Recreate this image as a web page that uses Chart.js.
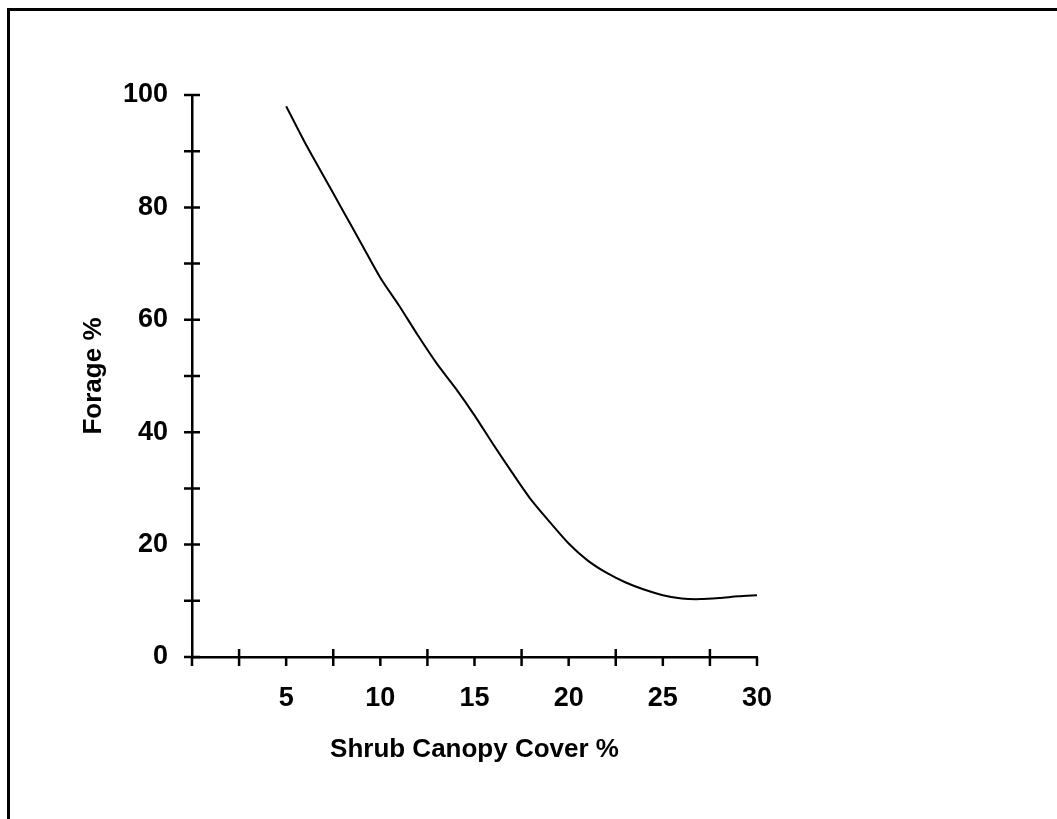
<!DOCTYPE html>
<html>
<head>
<meta charset="utf-8">
<title>Forage vs Shrub Canopy Cover</title>
<script src="https://cdn.jsdelivr.net/npm/chart.js@4.4.1/dist/chart.umd.min.js"></script>
<style>
    html, body { margin: 0; padding: 0; background: #fff; overflow: hidden; }
    #frame {
        position: absolute; left: 7px; top: 8px; width: 1100px; height: 900px;
        border-top: 3px solid #000; border-left: 3px solid #000;
    }
    #forageChart { position: absolute; left: 0; top: 0; }
</style>
</head>
<body>
<div id="frame"></div>
<canvas id="forageChart" width="1057" height="819"></canvas>
<script>
// Values
const shrubCover = [5, 6, 7, 8, 9, 10, 11, 12, 13, 14, 15, 16, 17, 18, 19, 20, 21, 22, 23, 24, 25, 26, 27, 28, 29, 30];
const foragePct = [98, 91.5, 85.5, 79.5, 73.5, 67.5, 62.5, 57.2, 52.2, 47.8, 43, 37.8, 32.8, 28, 24, 20.2, 17.2, 15, 13.3, 12, 11, 10.4, 10.3, 10.5, 10.8, 11];

const xLabels = [5, 10, 15, 20, 25, 30];
const yLabels = [0, 20, 40, 60, 80, 100];
const xTickValues = [0, 2.5, 5, 7.5, 10, 12.5, 15, 17.5, 20, 22.5, 25, 27.5, 30];
const yTickValues = [0, 10, 20, 30, 40, 50, 60, 70, 80, 90, 100];

const FONT = "'Liberation Sans', Arial, sans-serif";

// tick marks that cross the axis line, like the original
const crossTicks = {
    id: 'crossTicks',
    afterDraw(chart) {
        const ctx = chart.ctx;
        const xs = chart.scales.x;
        const ys = chart.scales.y;
        const x0 = xs.getPixelForValue(0);
        const y0 = ys.getPixelForValue(0);
        ctx.save();
        ctx.strokeStyle = '#000';
        ctx.lineWidth = 2.5;
        ctx.beginPath();
        yTickValues.forEach(v => {
            const py = ys.getPixelForValue(v);
            ctx.moveTo(x0 - 8, py);
            ctx.lineTo(x0 + 8, py);
        });
        xTickValues.forEach(v => {
            const px = xs.getPixelForValue(v);
            const labelled = xLabels.includes(v) || v === 0;
            ctx.moveTo(px, labelled ? y0 : y0 - 8);
            ctx.lineTo(px, y0 + 9);
        });
        ctx.stroke();
        ctx.restore();
    }
};

document.addEventListener('DOMContentLoaded', function () {
    const ctx = document.getElementById('forageChart').getContext('2d');
    window.forageChart = new Chart(ctx, {
        type: 'line',
        data: {
            datasets: [{
                label: 'Forage %',
                data: shrubCover.map((x, i) => ({ x: x, y: foragePct[i] })),
                borderColor: '#000',
                borderWidth: 2,
                pointRadius: 0,
                tension: 0.25,
                fill: false
            }]
        },
        options: {
            responsive: false,
            animation: false,
            layout: { padding: { top: 95, right: 300, left: 0, bottom: 0 } },
            plugins: {
                legend: { display: false },
                tooltip: { enabled: false }
            },
            scales: {
                x: {
                    type: 'linear',
                    min: 0,
                    max: 30,
                    afterFit: s => { s.height = 162; },
                    afterBuildTicks: s => { s.ticks = xLabels.map(v => ({ value: v })); },
                    grid: { display: false },
                    border: { display: true, color: '#000', width: 2.5 },
                    ticks: {
                        color: '#000',
                        padding: 17,
                        maxRotation: 0,
                        font: { family: FONT, size: 27, weight: 'bold' }
                    },
                    title: {
                        display: true,
                        text: 'Shrub Canopy Cover %',
                        color: '#000',
                        padding: { top: 0, bottom: 54 },
                        font: { family: FONT, size: 26, weight: 'bold' }
                    }
                },
                y: {
                    min: 0,
                    max: 100,
                    afterFit: s => { s.width = 192; },
                    afterBuildTicks: s => { s.ticks = yLabels.map(v => ({ value: v })); },
                    grid: { display: false },
                    border: { display: true, color: '#000', width: 2.5 },
                    ticks: {
                        color: '#000',
                        padding: 16,
                        font: { family: FONT, size: 27, weight: 'bold' }
                    },
                    title: {
                        display: true,
                        text: 'Forage %',
                        color: '#000',
                        padding: { top: 78, bottom: 0 },
                        font: { family: FONT, size: 26, weight: 'bold' }
                    }
                }
            }
        },
        plugins: [crossTicks]
    });
});
</script>
</body>
</html>
